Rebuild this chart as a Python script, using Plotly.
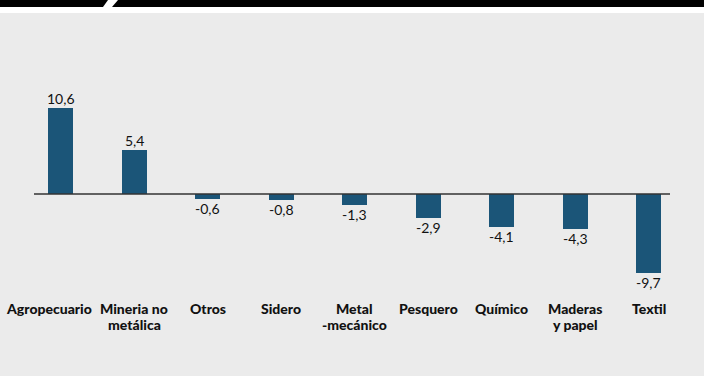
import plotly.graph_objects as go

categories = ["Agropecuario", "Mineria no<br>metálica", "Otros", "Sidero", "Metal<br>-mecánico",
              "Pesquero", "Químico", "Maderas<br>y papel", "Textil"]
values = [10.6, 5.4, -0.6, -0.8, -1.3, -2.9, -4.1, -4.3, -9.7]
value_labels = ["10,6", "5,4", "-0,6", "-0,8", "-1,3", "-2,9", "-4,1", "-4,3", "-9,7"]

W, H = 704, 376
BAR = "#1b5578"
BG = "#ebebeb"
FONT = "Lato, Roboto, sans-serif"

# pixel geometry
x0_px, step = 60.5, 73.5
zero_px, ppu = 194.0, 8.11

xs = list(range(len(categories)))
fig = go.Figure(go.Bar(x=xs, y=values, marker_color=BAR, width=25 / step,
                       marker_line_width=0, hoverinfo="skip"))

def px2x(p):
    return (p - x0_px) / step

def px2y(p):
    return (zero_px - p) / ppu

shapes = [
    dict(type="rect", xref="paper", yref="paper", x0=0, x1=1, y0=1 - 13 / H, y1=1,
         fillcolor="white", line_width=0, layer="below"),
    dict(type="rect", xref="paper", yref="paper", x0=0, x1=1, y0=1 - 7 / H, y1=1,
         fillcolor="black", line_width=0, layer="below"),
    dict(type="path", xref="paper", yref="paper",
         path=f"M {108/W} 1 L {118/W} 1 L {112/W} {1-7/H} L {103/W} {1-7/H} Z",
         fillcolor="white", line_width=0, layer="below"),
    dict(type="line", xref="x", yref="y", x0=px2x(34), x1=px2x(670), y0=0, y1=0,
         line=dict(color="#333333", width=1.6), layer="above"),
]

annotations = []
for i, (v, t) in enumerate(zip(values, value_labels)):
    annotations.append(dict(x=i, y=v, xref="x", yref="y", text=t, showarrow=False,
                            yanchor="bottom" if v >= 0 else "top",
                            yshift=-1 if v >= 0 else 1,
                            font=dict(family=FONT, size=14, color="#111111")))
for i, c in enumerate(categories):
    for j, line in enumerate(c.split("<br>")):
        annotations.append(dict(x=i, y=px2y(308 + 16 * j), xref="x", yref="y", text=line,
                                showarrow=False, yanchor="middle", xshift=-12 if i == 0 else 0,
                                font=dict(family=FONT, size=14, color="#111111", weight=900)))

fig.update_layout(
    width=W, height=H,
    margin=dict(l=0, r=0, t=0, b=0, autoexpand=False),
    paper_bgcolor=BG, plot_bgcolor="rgba(0,0,0,0)",
    showlegend=False,
    xaxis=dict(range=[px2x(0), px2x(W)], visible=False, fixedrange=True),
    yaxis=dict(range=[px2y(H), px2y(0)], visible=False, fixedrange=True),
    shapes=shapes, annotations=annotations,
    bargap=0,
)

fig.write_html("out.html")
